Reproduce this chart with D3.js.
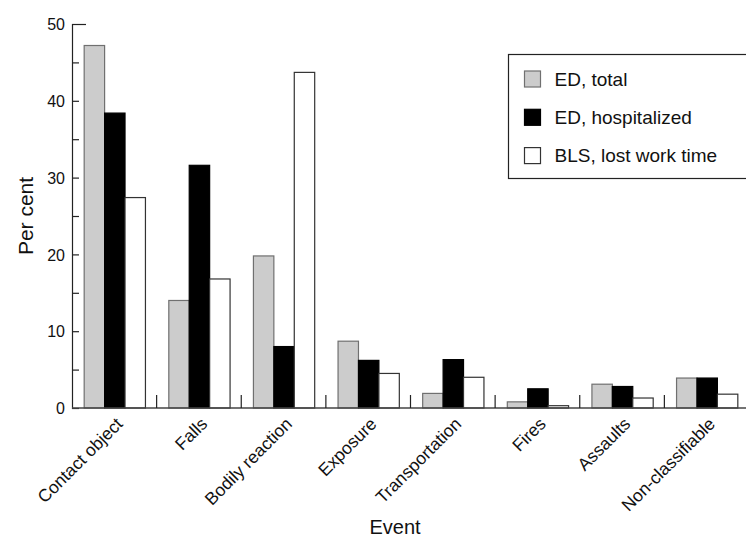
<!DOCTYPE html>
<html>
<head>
<meta charset="utf-8">
<script src="https://cdn.jsdelivr.net/npm/d3@7"></script>
<style>
  body { margin: 0; background: #fff; }
  text { font-family: "Liberation Sans", Arial, sans-serif; fill: #111; }
</style>
</head>
<body>
<script>
const categories = ["Contact object", "Falls", "Bodily reaction", "Exposure", "Transportation", "Fires", "Assaults", "Non-classifiable"];
const seriesNames = ["ED, total", "ED, hospitalized", "BLS, lost work time"];
const edTotal = [47.2, 14.0, 19.8, 8.7, 1.9, 0.8, 3.1, 3.9];
const edHospitalized = [38.4, 31.6, 8.0, 6.2, 6.3, 2.5, 2.8, 3.9];
const blsLostWork = [27.4, 16.8, 43.7, 4.5, 4.0, 0.3, 1.3, 1.8];
const yTicks = [0, 10, 20, 30, 40, 50];
const yMinorTicks = [5, 15, 25, 35, 45];

const fills = ["#cccccc", "#000000", "#ffffff"];
const strokes = ["#707070", "#000000", "#333333"];

const width = 746, height = 539;
const margin = {top: 24, right: -3, bottom: 131, left: 72};

const rows = categories.map((c, i) => ({cat: c, vals: [edTotal[i], edHospitalized[i], blsLostWork[i]]}));

const svg = d3.select("body").append("svg").attr("width", width).attr("height", height);

const x = d3.scaleBand().domain(categories).range([margin.left, width - margin.right]).paddingInner(0.276).paddingOuter(0.138);
const xs = d3.scaleBand().domain(d3.range(3)).range([0, x.bandwidth()]);
const y = d3.scaleLinear().domain([0, 50]).range([height - margin.bottom, margin.top]);

// bars
const groups = svg.selectAll("g.grp")
  .data(rows)
  .enter().append("g")
  .attr("class", "grp")
  .attr("transform", d => `translate(${x(d.cat)},0)`);

groups.selectAll("rect")
  .data(d => d.vals)
  .enter().append("rect")
  .attr("x", (d, i) => xs(i) + 0.5)
  .attr("y", d => y(d))
  .attr("width", xs.bandwidth())
  .attr("height", d => y(0) - y(d))
  .attr("fill", (d, i) => fills[i])
  .attr("stroke", (d, i) => strokes[i])
  .attr("stroke-width", 1.2);

// y axis
const yAxis = svg.append("g")
  .attr("transform", `translate(${margin.left},0)`)
  .call(d3.axisRight(y).tickValues(yTicks).tickSize(7).tickFormat(d3.format("d")));
yAxis.select(".domain").attr("stroke", "#222").attr("stroke-width", 1.2);
yAxis.selectAll(".tick line").attr("stroke", "#222").attr("stroke-width", 1.2)
  .filter(d => d === 50).attr("x2", 14);
yAxis.selectAll(".tick text").attr("x", -7).attr("text-anchor", "end").attr("font-size", 16).attr("dy", "0.35em");
yAxis.selectAll(".tick text").attr("font-family", "Liberation Sans, Arial, sans-serif");

svg.append("g")
  .attr("transform", `translate(${margin.left},0)`)
  .call(d3.axisRight(y).tickValues(yMinorTicks).tickSize(7).tickFormat(""))
  .call(g => g.select(".domain").remove())
  .selectAll("line").attr("stroke", "#222").attr("stroke-width", 1.2);

// x baseline and category separators
svg.append("line")
  .attr("x1", margin.left).attr("x2", width)
  .attr("y1", y(0)).attr("y2", y(0))
  .attr("stroke", "#444").attr("stroke-width", 1.5);

const step = x.step();
svg.selectAll("line.sep")
  .data(categories.slice(1))
  .enter().append("line")
  .attr("class", "sep")
  .attr("x1", d => x(d) - (step - x.bandwidth()) / 2)
  .attr("x2", d => x(d) - (step - x.bandwidth()) / 2)
  .attr("y1", y(0)).attr("y2", y(0) - 13)
  .attr("stroke", "#222").attr("stroke-width", 1.2);

// x labels
svg.selectAll("text.xlab")
  .data(categories)
  .enter().append("text")
  .attr("class", "xlab")
  .attr("transform", d => `translate(${x(d) + x.bandwidth() / 2 + 9.5},${y(0) + 17}) rotate(-45)`)
  .attr("text-anchor", "end")
  .attr("font-size", 17.5)
  .text(d => d);

// axis titles
svg.append("text")
  .attr("transform", `translate(33,${(y(0) + y(50)) / 2}) rotate(-90)`)
  .attr("text-anchor", "middle")
  .attr("font-size", 21)
  .text("Per cent");

svg.append("text")
  .attr("x", 395).attr("y", 534)
  .attr("text-anchor", "middle")
  .attr("font-size", 20)
  .text("Event");

// legend
const legend = svg.append("g");
legend.append("rect")
  .attr("x", 508.5).attr("y", 54.5).attr("width", 250).attr("height", 124)
  .attr("fill", "#fff").attr("stroke", "#222").attr("stroke-width", 1.2);

const li = legend.selectAll("g.item")
  .data(seriesNames)
  .enter().append("g")
  .attr("transform", (d, i) => `translate(524.5,${79 + i * 38.3})`);
li.append("rect")
  .attr("x", 0).attr("y", -8).attr("width", 16).attr("height", 16)
  .attr("fill", (d, i) => fills[i])
  .attr("stroke", (d, i) => strokes[i])
  .attr("stroke-width", 1.2);
li.append("text")
  .attr("x", 30).attr("dy", "0.36em")
  .attr("font-size", 19)
  .text(d => d);
</script>
</body>
</html>
